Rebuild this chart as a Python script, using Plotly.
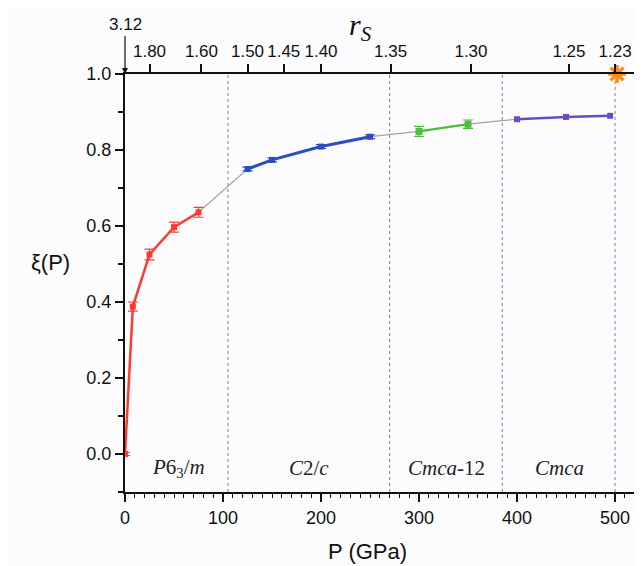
import plotly.graph_objects as go

# ---- data ----
p_red = [0, 8, 25, 50, 75]
xi_red = [0.0, 0.388, 0.525, 0.597, 0.636]
err_red = [0.004, 0.012, 0.014, 0.013, 0.013]

p_blue = [125, 150, 200, 250]
xi_blue = [0.750, 0.774, 0.809, 0.835]
err_blue = [0.005, 0.005, 0.005, 0.005]

p_green = [300, 350]
xi_green = [0.849, 0.868]
err_green = [0.013, 0.011]

p_purple = [400, 450, 495]
xi_purple = [0.881, 0.887, 0.890]

transitions = [105, 270, 385, 500]
phase_names = ["<i>P</i>6<sub>3</sub>/<i>m</i>", "<i>C</i>2/<i>c</i>", "<i>Cmca</i>-12", "<i>Cmca</i>"]
phase_pos = [55, 188, 328, 443]

rs_pos = [25, 78, 125, 162, 200, 271, 353, 453, 500]
rs_labels = ["1.80", "1.60", "1.50", "1.45", "1.40", "1.35", "1.30", "1.25", "1.23"]

star_p = [502]
star_xi = [1.0]

fig = go.Figure()

# thin gray line through all points
fig.add_trace(go.Scatter(x=p_red + p_blue + p_green + p_purple,
                         y=xi_red + xi_blue + xi_green + xi_purple,
                         mode="lines", line=dict(color="#a0a4a8", width=1.2),
                         showlegend=False, hoverinfo="skip"))

def series(x, y, err, color, width, size):
    fig.add_trace(go.Scatter(
        x=x, y=y, mode="lines+markers",
        line=dict(color=color, width=width),
        marker=dict(color=color, size=size, symbol="square"),
        error_y=dict(type="data", array=err, visible=True, color=color,
                     thickness=1.2, width=5) if err is not None else None,
        showlegend=False))

series(p_red, xi_red, err_red, "#ff3b30", 2.5, 6)
series(p_blue, xi_blue, err_blue, "#2a4ec0", 3, 6)
series(p_green, xi_green, err_green, "#4cbf3a", 2.2, 7)
series(p_purple, xi_purple, None, "#6a4cc0", 2.5, 6)

# star
fig.add_trace(go.Scatter(x=star_p, y=star_xi, mode="markers",
                         marker=dict(symbol="asterisk-open", size=15, color="#ff8c1a",
                                     line=dict(color="#ff8c1a", width=3.5)),
                         cliponaxis=False, showlegend=False))

# invisible trace for top axis
fig.add_trace(go.Scatter(x=[0, 500], y=[None, None], xaxis="x2", mode="markers",
                         marker=dict(opacity=0), showlegend=False, hoverinfo="skip"))

# transitions
for t in transitions:
    fig.add_shape(type="line", x0=t, x1=t, y0=-0.1, y1=1.0, xref="x", yref="y",
                  line=dict(color="#8a9aa8", width=1.2, dash="dot"), layer="below")

for name, pp in zip(phase_names, phase_pos):
    fig.add_annotation(x=pp, y=-0.038, text=name, showarrow=False, xref="x", yref="y",
                       font=dict(family="Liberation Serif", size=21, color="#222"))

fig.add_annotation(x=0, y=1.0, xref="x", yref="y", text="3.12", showarrow=True,
                   ax=0, ay=-38, arrowhead=2, arrowsize=1, arrowwidth=1.2,
                   arrowcolor="#111", font=dict(family="Liberation Sans", size=17, color="#111"),
                   yanchor="bottom")

fig.add_annotation(x=0.455, y=1.162, xref="paper", yref="paper",
                   text="<i>r<sub>S</sub></i>", showarrow=False,
                   font=dict(family="Liberation Serif", size=30, color="#111"))

fig.add_annotation(x=-0.185, y=0.55, xref="paper", yref="paper",
                   text="ξ(P)", showarrow=False,
                   font=dict(family="Liberation Sans", size=22, color="#111"))

fig.add_annotation(x=0.47, y=-0.178, xref="paper", yref="paper",
                   text="P (GPa)", showarrow=False,
                   font=dict(family="Liberation Sans", size=22, color="#111"))

fig.update_layout(
    width=634, height=558,
    margin=dict(l=117, r=0, t=66, b=74),
    paper_bgcolor="#fcfcfe", plot_bgcolor="#fcfcfe",
    xaxis=dict(range=[0, 527.5], tick0=0, dtick=100, ticks="outside", ticklen=8,
               tickwidth=1.5, tickcolor="#111", showline=True, linecolor="#111",
               linewidth=2, showgrid=False, zeroline=False, automargin=False,
               tickfont=dict(family="Liberation Sans", size=18, color="#111"),
               minor=dict(dtick=10, ticks="outside", ticklen=4, tickcolor="#111", tickwidth=1)),
    xaxis2=dict(range=[0, 527.5], overlaying="x", side="top", tickvals=rs_pos,
                ticktext=rs_labels, ticks="outside", ticklen=8, tickwidth=1.5,
                tickcolor="#111", showline=True, linecolor="#111", linewidth=2,
                showgrid=False, zeroline=False, automargin=False,
                tickfont=dict(family="Liberation Sans", size=17, color="#111")),
    yaxis=dict(range=[-0.1, 1.0], tick0=0, dtick=0.2, tickformat=".1f", ticks="outside",
               ticklen=8, tickwidth=1.5, tickcolor="#111", showline=True,
               linecolor="#111", linewidth=2, showgrid=False, zeroline=False,
               automargin=False,
               tickfont=dict(family="Liberation Sans", size=18, color="#111"),
               minor=dict(dtick=0.1, ticks="outside", ticklen=5, tickcolor="#111", tickwidth=1.5)),
)

fig.write_html("out.html")
